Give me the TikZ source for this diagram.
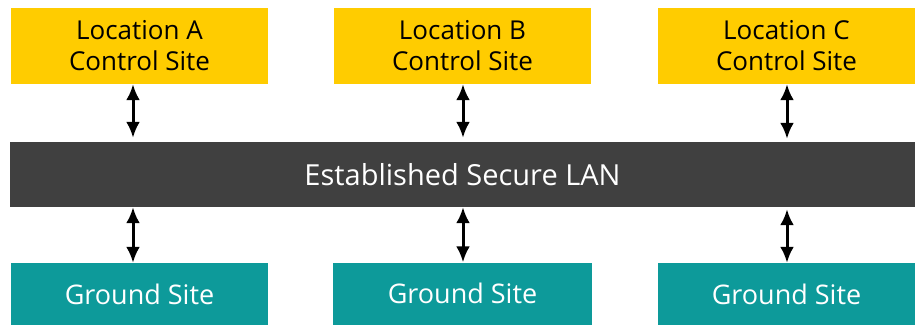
\documentclass[tikz,border=0pt]{standalone}
\usepackage{fontspec}
\setmainfont{Open Sans}
\usetikzlibrary{arrows.meta}
\definecolor{ctlyellow}{HTML}{FFCC00}
\definecolor{landark}{HTML}{404040}
\definecolor{groundteal}{HTML}{0D9A9A}
\begin{document}
\begin{tikzpicture}[x=1pt,y=-1pt,
  ctlbox/.style={fill=ctlyellow, draw=none, minimum width=257pt, minimum height=76pt, inner sep=0pt, align=center, text=black, font=\fontsize{26}{31}\selectfont},
  gndbox/.style={fill=groundteal, draw=none, minimum width=257pt, minimum height=62pt, inner sep=0pt, align=center, text=white, font=\fontsize{27}{31}\selectfont},
  lanbox/.style={fill=landark, draw=none, minimum width=905pt, minimum height=65pt, inner sep=0pt, text=white, font=\fontsize{29}{31}\selectfont},
  link/.style={{Latex[length=16pt,width=14pt]}-{Latex[length=16pt,width=14pt]}, line width=3pt, black}
]
\useasboundingbox (0,0) rectangle (920,325);
\node[ctlbox] (A) at (139.5,46) {Location A\\Control Site};
\node[ctlbox] (B) at (462.5,46) {Location B\\Control Site};
\node[ctlbox] (C) at (786.5,46) {Location C\\Control Site};
\node[lanbox] (LAN) at (462.5,174.5) {Established Secure LAN};
\node[gndbox] (GA) at (139.5,294) {Ground Site};
\node[gndbox, minimum width=259pt] (GB) at (462.5,293.5) {Ground Site};
\node[gndbox] (GC) at (786.5,294) {Ground Site};
\coordinate (xa) at (133,0);
\coordinate (xb) at (463,0);
\coordinate (xc) at (787,0);
\draw[link, shorten >=4pt] (A.south -| xa) -- (LAN.north -| xa);
\draw[link, shorten >=4pt] (B.south -| xb) -- (LAN.north -| xb);
\draw[link, shorten >=3pt] (C.south -| xc) -- (LAN.north -| xc);
\draw[link] (LAN.south -| xa) -- (GA.north -| xa);
\draw[link] (LAN.south -| xb) -- (GB.north -| xb);
\draw[link, shorten <=2pt] (LAN.south -| xc) -- (GC.north -| xc);
\end{tikzpicture}
\end{document}
